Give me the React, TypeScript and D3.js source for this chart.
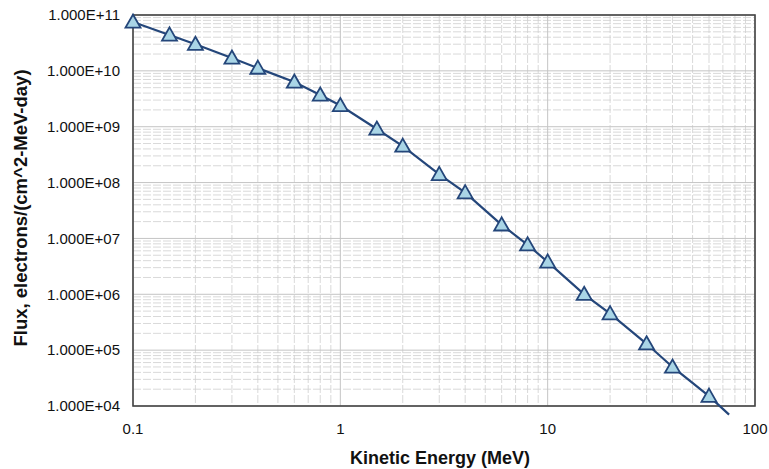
import React from "react";
import * as d3 from "d3";

const energies = [0.1, 0.15, 0.2, 0.3, 0.4, 0.6, 0.8, 1, 1.5, 2, 3, 4, 6, 8, 10, 15, 20, 30, 40, 60, 75];
const fluxes = [7.5e10, 4.4e10, 3.0e10, 1.7e10, 1.12e10, 6.3e9, 3.7e9, 2.4e9, 9.1e8, 4.5e8, 1.4e8, 6.6e7, 1.75e7, 7.7e6, 3.8e6, 1.0e6, 4.5e5, 1.3e5, 5.0e4, 1.5e4, 7.0e3];
const xTicks = [0.1, 1, 10, 100];
const xTickLabels = ["0.1", "1", "10", "100"];
const yTicks = [1e4, 1e5, 1e6, 1e7, 1e8, 1e9, 1e10, 1e11];
const yTickLabels = ["1.000E+04", "1.000E+05", "1.000E+06", "1.000E+07", "1.000E+08", "1.000E+09", "1.000E+10", "1.000E+11"];
const xTitle = "Kinetic Energy (MeV)";
const yTitle = "Flux, electrons/(cm^2-MeV-day)";

export default function App() {
  const W = 769, H = 469;
  const L = 133, R = 755, T = 15, B = 406;
  const x = d3.scaleLog().domain([0.1, 100]).range([L, R]);
  const y = d3.scaleLog().domain([1e4, 1e11]).range([B, T]);

  const minorX: number[] = [];
  for (let d = 0.1; d < 100; d *= 10) for (let k = 2; k <= 9; k++) minorX.push(d * k);
  const minorY: number[] = [];
  for (let d = 1e4; d < 1e11; d *= 10) for (let k = 2; k <= 9; k++) minorY.push(d * k);

  const pts = energies.map((e, i) => [x(e), y(fluxes[i])] as [number, number]);
  const line = d3.line()(pts) || "";
  const tri = (cx: number, cy: number) => {
    const s = 7.5;
    return `M${cx},${cy - s}L${cx + s},${cy + s * 0.75}L${cx - s},${cy + s * 0.75}Z`;
  };
  const font = "Arial, 'Liberation Sans', sans-serif";

  return (
    <svg width={W} height={H} style={{ position: "absolute", left: 0, top: 0, background: "#fff" }}>
      <rect x={0} y={0} width={W} height={H} fill="#fff" />
      {minorY.map((v, i) => (
        <line key={"my" + i} x1={L} x2={R} y1={y(v)} y2={y(v)} stroke="#cfcfcf" strokeWidth={0.8} strokeDasharray="8,2" />
      ))}
      {minorX.map((v, i) => (
        <line key={"mx" + i} x1={x(v)} x2={x(v)} y1={T} y2={B} stroke="#cfcfcf" strokeWidth={0.8} strokeDasharray="8,2" />
      ))}
      {yTicks.map((v, i) => (
        <line key={"gy" + i} x1={L} x2={R} y1={y(v)} y2={y(v)} stroke="#c4c4c4" strokeWidth={1} />
      ))}
      {xTicks.map((v, i) => (
        <line key={"gx" + i} x1={x(v)} x2={x(v)} y1={T} y2={B} stroke="#c4c4c4" strokeWidth={1} />
      ))}
      <rect x={L} y={T} width={R - L} height={B - T} fill="none" stroke="#444" strokeWidth={1.6} />
      {yTicks.map((v, i) => (
        <text key={"ty" + i} x={L - 13} y={y(v)} dy="0.35em" textAnchor="end" fontFamily={font} fontSize={15} fill="#111">
          {yTickLabels[i]}
        </text>
      ))}
      {xTicks.map((v, i) => (
        <text key={"tx" + i} x={x(v)} y={B + 28} textAnchor="middle" fontFamily={font} fontSize={15} fill="#111">
          {xTickLabels[i]}
        </text>
      ))}
      <text x={440} y={464} textAnchor="middle" fontFamily={font} fontSize={18} fontWeight="bold" fill="#111">
        {xTitle}
      </text>
      <text transform={`translate(27,208) rotate(-90)`} textAnchor="middle" fontFamily={font} fontSize={18.5} fontWeight="bold" fill="#111">
        {yTitle}
      </text>
      <path d={line} fill="none" stroke="#24467a" strokeWidth={2.2} />
      {pts.map((p, i) =>
        energies[i] <= 100 && fluxes[i] >= 1e4 ? (
          <path key={"m" + i} d={tri(p[0], p[1])} fill="#a9d5e6" stroke="#24467a" strokeWidth={1.8} strokeLinejoin="miter" />
        ) : null
      )}
    </svg>
  );
}
